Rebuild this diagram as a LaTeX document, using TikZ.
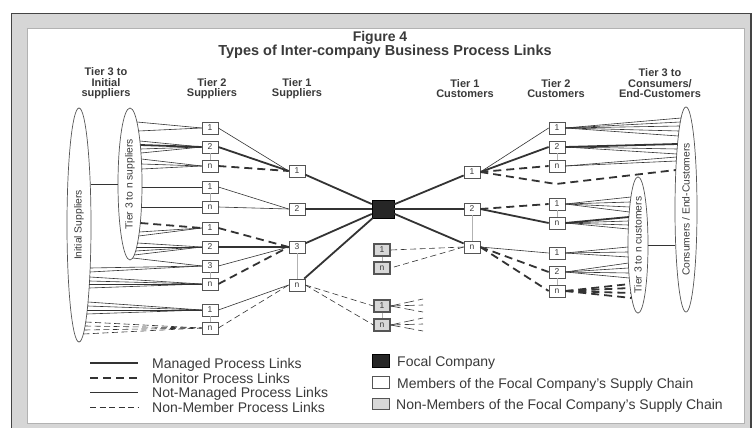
\documentclass[tikz,border=0pt]{standalone}
\usepackage{fontspec}
\setmainfont{Liberation Sans}
\usetikzlibrary{shapes.geometric}
\definecolor{txt}{HTML}{3A3A3A}
\definecolor{lk}{HTML}{333333}
\definecolor{boxgray}{HTML}{555555}
\definecolor{bandgray}{HTML}{D6D6D6}
\definecolor{framedark}{HTML}{444444}
\definecolor{nmfill}{HTML}{D8D8D8}
\tikzset{
  box/.style={draw=boxgray, fill=white, line width=0.7pt, minimum width=16pt, minimum height=12pt, inner sep=0pt, font=\fontsize{8.5}{8.5}\selectfont, text=txt},
  nmbox/.style={box, fill=nmfill, line width=1.1pt},
  managed/.style={draw=lk, line width=1.8pt},
  monitor/.style={draw=lk, line width=1.8pt, dash pattern=on 8pt off 5pt},
  notmanaged/.style={draw=lk, line width=0.6pt},
  nonmember/.style={draw=lk, line width=0.6pt, dash pattern=on 6pt off 3.5pt},
  grp/.style={draw=gray!60, line width=0.4pt},
  ell/.style={ellipse, draw=boxgray, line width=0.7pt, inner sep=0pt, font=\fontsize{10.3}{11}\selectfont, text=txt},
  hdr/.style={font=\bfseries\fontsize{11}{10.5}\selectfont, text=txt, align=center},
  lgtext/.style={font=\fontsize{14}{14}\selectfont, text=txt, anchor=base west, inner sep=0pt},
}
\begin{document}
\begin{tikzpicture}[x=1pt,y=-1pt]
\useasboundingbox (0,0) rectangle (752,428);
\fill[white] (0,0) rectangle (752,428);
\fill[bandgray] (11,13) rectangle (752,430);
\draw[framedark, line width=1.5pt] (11.5,432) -- (11.5,13.5) -- (751,13.5) -- (751,432);
\draw[fill=white, draw=gray!60, line width=0.6pt] (27,28) rectangle (744,423);

% titles
\node[font=\bfseries\fontsize{14}{14}\selectfont, text=txt] (t1) at (380,38) {Figure 4};
\node[font=\bfseries\fontsize{14.5}{14}\selectfont, text=txt] (t2) at (385,52) {Types of Inter-company Business Process Links};

% headers
\node[hdr] (h1) at (106,83.5) {Tier 3 to\\Initial\\suppliers};
\node[hdr] (h2) at (212,88.5) {Tier 2\\Suppliers};
\node[hdr] (h3) at (297,88.5) {Tier 1\\Suppliers};
\node[hdr] (h4) at (465,88.5) {Tier 1\\Customers};
\node[hdr] (h5) at (556,88.5) {Tier 2\\Customers};
\node[hdr] (h6) at (660,83.5) {Tier 3 to\\Consumers/\\End-Customers};

% ellipses
\node[ell, minimum width=24pt, minimum height=234pt] (is) at (79,225) {\rotatebox{90}{Initial Suppliers}};
\node[ell, minimum width=24pt, minimum height=152pt] (ts) at (130,184) {\rotatebox{90}{Tier 3 to n suppliers}};
\node[ell, minimum width=22pt, minimum height=205pt] (ce) at (686,209.5) {\rotatebox{90}{Consumers / End-Customers}};
\node[ell, minimum width=20pt, minimum height=136pt] (tc) at (638,245) {\rotatebox{90}{Tier 3 to n customers}};
\draw[notmanaged] (is.east |- ts.center) -- (ts.west);
\draw[notmanaged] (tc.east) -- (ce.west |- tc.east);

% border points on ellipses
\foreach \yy in {122,131,141,145,149,153,159,164,169,187,207,223,232,236,243,247,251,255,258}
  \coordinate (s\yy) at ({130+12*sqrt(1-((\yy-184)/76)^2)},\yy);
\foreach \yy in {268,272,277,281,284,288,302,306,310,314,322,326,330,334}
  \coordinate (i\yy) at ({79+12*sqrt(1-((\yy-225)/117)^2)},\yy);
\foreach \yy in {118,122,126,131,136,144,149,154,157,161,170}
  \coordinate (c\yy) at ({686-11*sqrt(1-((\yy-209.5)/102.5)^2)},\yy);
\foreach \yy in {197,202,207,212,217,221,225,229,247,252,257,263,268,273,278,284,288,293,298}
  \coordinate (t\yy) at ({638-10*sqrt(1-((\yy-245)/68)^2)},\yy);

% tier 2 suppliers
\node[box] (l1) at (210,128) {1};
\node[box] (l2) at (210,147) {2};
\node[box] (l3) at (210,166) {n};
\node[box] (l4) at (210,187) {1};
\node[box] (l5) at (210,207) {n};
\node[box] (l6) at (210,228) {1};
\node[box] (l7) at (210,247) {2};
\node[box] (l8) at (210,266) {3};
\node[box] (l9) at (210,284) {n};
\node[box] (l10) at (210,310) {1};
\node[box] (l11) at (210,328) {n};
% tier 1 suppliers
\node[box] (p1) at (297,171) {1};
\node[box] (p2) at (297,209) {2};
\node[box] (p3) at (297,247) {3};
\node[box] (p4) at (297,285) {n};
% focal
\node[draw=black, fill=black!85, minimum width=22pt, minimum height=18pt, inner sep=0pt] (fc) at (383,209) {};
% tier 1 customers
\node[box] (q1) at (472,172) {1};
\node[box] (q2) at (472,209) {2};
\node[box] (q3) at (472,247) {n};
% tier 2 customers
\node[box] (r1) at (557,128) {1};
\node[box] (r2) at (557,147) {2};
\node[box] (r3) at (557,166) {n};
\node[box] (r4) at (557,204) {1};
\node[box] (r5) at (557,223) {n};
\node[box] (r6) at (557,253) {1};
\node[box] (r7) at (557,272) {2};
\node[box] (r8) at (557,291) {n};
% non-members
\node[nmbox] (m1) at (382,250) {1};
\node[nmbox] (m2) at (382,268) {n};
\node[nmbox] (m3) at (382,306) {1};
\node[nmbox] (m4) at (382,325) {n};

% group lines
\foreach \a/\b in {l2/l3,l4/l5,l8/l9,l10/l11,p3/p4,q2/q3,r2/r3,r4/r5,r7/r8,m1/m2,m3/m4}
  \draw[grp] (\a) -- (\b);

% ellipse -> tier 2 suppliers
\foreach \p in {122,131} \draw[notmanaged] (s\p) -- (l1.west);
\foreach \p in {141,149,153} \draw[notmanaged] (s\p) -- (l2.west);
\draw[managed] (s145) -- (l2.west);
\foreach \p in {159,164,169} \draw[notmanaged] (s\p) -- (l3.west);
\draw[notmanaged] (s187) -- (l4.west);
\draw[notmanaged] (s207) -- (l5.west);
\draw[monitor] (s223) -- (l6.west);
\foreach \p in {232,236} \draw[notmanaged] (s\p) -- (l6.west);
\foreach \p in {243,247,251,255} \draw[notmanaged] (s\p) -- (l7.west);
\draw[notmanaged] (s258) -- (l8.west);
\foreach \p in {268,272} \draw[notmanaged] (i\p) -- (l8.west);
\foreach \p in {277,281,284,288} \draw[notmanaged] (i\p) -- (l9.west);
\foreach \p in {302,306,310,314} \draw[notmanaged] (i\p) -- (l10.west);
\foreach \p in {322,326,330,334} \draw[nonmember] (i\p) -- (l11.west);

% tier 2 -> tier 1 suppliers
\draw[notmanaged] (l1.east) -- (p1.west);
\draw[managed] (l2.east) -- (p1.west);
\draw[monitor] (l3.east) -- (p1.west);
\draw[notmanaged] (l4.east) -- (p2.west);
\draw[notmanaged] (l5.east) -- (p2.west);
\draw[monitor] (l6.east) -- (p3.west);
\draw[managed] (l7.east) -- (p3.west);
\draw[notmanaged] (l8.east) -- (p3.west);
\draw[monitor] (l9.east) -- (p3.west);
\draw[notmanaged] (l10.east) -- (p4.west);
\draw[nonmember] (l11.east) -- (p4.west);

% tier 1 suppliers -> focal
\foreach \a in {p1,p2,p3,p4} \draw[managed] (\a) -- (fc);
\draw[nonmember] (p4.east) -- (m3.west);
\draw[nonmember] (p4.east) -- (m4.west);
\coordinate (f1) at (423,299); \coordinate (f2) at (423,305); \coordinate (f3) at (423,312);
\coordinate (f4) at (423,318); \coordinate (f5) at (423,324); \coordinate (f6) at (423,331);
\foreach \f in {f1,f2,f3} \draw[nonmember, dash pattern=on 10pt off 4pt] (m3.east) -- (\f);
\foreach \f in {f4,f5,f6} \draw[nonmember, dash pattern=on 10pt off 4pt] (m4.east) -- (\f);

% focal -> tier 1 customers
\foreach \a in {q1,q2,q3} \draw[managed] (fc) -- (\a);

% tier 1 -> tier 2 customers
\draw[notmanaged] (q1.east) -- (r1.west);
\draw[managed] (q1.east) -- (r2.west);
\draw[monitor] (q1.east) -- (r3.west);
\coordinate (qb) at (556,184);
\draw[monitor] (q1.east) -- (qb) -- (c170);
\draw[monitor] (q2.east) -- (r4.west);
\draw[managed] (q2.east) -- (r5.west);
\draw[notmanaged] (q3.east) -- (r6.west);
\draw[monitor] (q3.east) -- (r7.west);
\draw[monitor] (q3.east) -- (r8.west);
\draw[nonmember] (q3.west) -- (m1.east);
\draw[nonmember] (q3.west) -- (m2.east);

% tier 2 customers -> ellipses
\foreach \p in {118,122,126,131,136} \draw[notmanaged] (r1.east) -- (c\p);
\draw[managed] (r2.east) -- (c144);
\foreach \p in {149,154} \draw[notmanaged] (r2.east) -- (c\p);
\foreach \p in {157,161} \draw[notmanaged] (r3.east) -- (c\p);
\foreach \p in {197,202,207,212} \draw[notmanaged] (r4.east) -- (t\p);
\draw[managed] (r5.east) -- (t217);
\foreach \p in {221,225,229} \draw[notmanaged] (r5.east) -- (t\p);
\foreach \p in {247,252,257} \draw[notmanaged] (r6.east) -- (t\p);
\foreach \p in {263,268,273,278} \draw[notmanaged] (r7.east) -- (t\p);
\foreach \p in {284,288,293,298} \draw[monitor] (r8.east) -- (t\p);

% legend, left
\node[lgtext] (g1) at (152,368) {Managed Process Links};
\node[lgtext] (g2) at (152,383) {Monitor Process Links};
\node[lgtext] (g3) at (152,397.5) {Not-Managed Process Links};
\node[lgtext] (g4) at (152,412) {Non-Member Process Links};
\coordinate (a1) at (90,363); \coordinate (a2) at (90,378); \coordinate (a3) at (90,392.5); \coordinate (a4) at (90,407);
\draw[managed] (a1) -- ++(48,0);
\draw[monitor] (a2) -- ++(48,0);
\draw[notmanaged] (a3) -- ++(48,0);
\draw[nonmember] (a4) -- ++(48,0);

% legend, right
\node[draw=black, fill=black!85, minimum width=17pt, minimum height=13pt, inner sep=0pt] (k1) at (380.5,360.5) {};
\node[box, minimum width=17pt, minimum height=12pt] (k2) at (380.5,382) {};
\node[nmbox, line width=0.8pt, minimum width=17pt, minimum height=11pt] (k3) at (380.5,404) {};
\node[lgtext] (g5) at (397,366) {Focal Company};
\node[lgtext] (g6) at (397,388) {Members of the Focal Company's Supply Chain};
\node[lgtext] (g7) at (396,409) {Non-Members of the Focal Company's Supply Chain};
\end{tikzpicture}
\end{document}
